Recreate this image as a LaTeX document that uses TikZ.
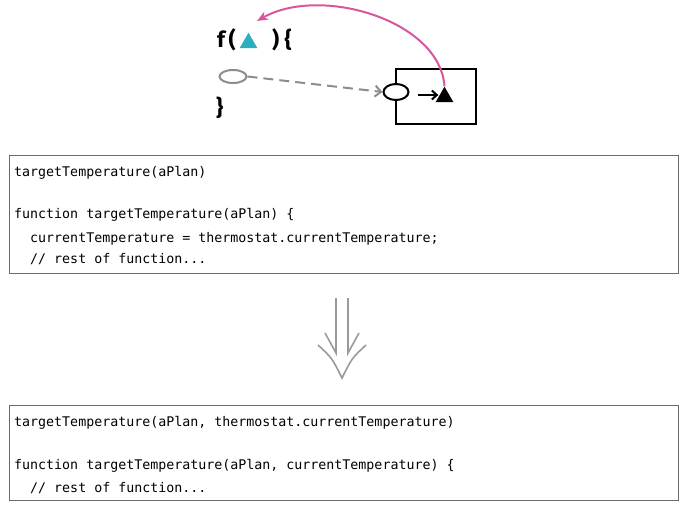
\documentclass[tikz,border=0pt]{standalone}
\usepackage{fontspec}
\setmonofont{DejaVu Sans Mono}
\newfontfamily\headfont{Fira Sans}
\usetikzlibrary{arrows.meta,shapes.geometric}
\definecolor{frame}{HTML}{6B6B6B}
\definecolor{flowgray}{HTML}{8C8C8C}
\definecolor{arrowgray}{HTML}{9A9A9A}
\definecolor{pinkline}{HTML}{D9569B}
\definecolor{teal}{HTML}{2AAEC0}

\begin{document}
\begin{tikzpicture}[x=1pt,y=-1pt,
    codeline/.style={anchor=base west,inner sep=0pt,font=\ttfamily\fontsize{13.3}{16}\selectfont},
    codebox/.style={draw=frame,line width=1pt,anchor=north west,inner sep=0pt},
    glyph/.style={anchor=base west,inner sep=0pt,font=\headfont\bfseries\fontsize{22}{26}\selectfont},
    tri/.style={regular polygon,regular polygon sides=3,minimum size=20.5pt,inner sep=0pt}]
    % page frame 688 x 511
    \useasboundingbox (0,0) rectangle (688,511);

    % function sketch
    \node[glyph] (fopen) at (217,48) {f\,(};
    \node[glyph] (fclose) at (272,48) {) \{};
    \node[glyph] (fend) at (216,115) {\}};
    \node[tri,fill=teal] (argtri) at (248.5,43) {};
    \node[ellipse,draw=flowgray,line width=2pt,minimum width=27pt,minimum height=13pt,inner sep=0pt] (localport) at (233,76.5) {};

    % the thermostat object
    \node[draw,line width=2pt,minimum width=80pt,minimum height=55pt,inner sep=0pt] (objbox) at (436,96.5) {};
    \node[ellipse,draw,fill=white,line width=2pt,minimum width=25pt,minimum height=16pt,inner sep=0pt] (objport) at (396,92) {};
    \node[tri,fill=black] (objtri) at (444.5,97) {};
    \draw[line width=2pt,-{Straight Barb[length=5pt,width=9pt]}] (objport.east) ++(8,3) coordinate (getstart) -- (objtri.west |- getstart);

    % connectors
    \draw[flowgray,line width=2pt,dash pattern=on 10pt off 6pt,-{Straight Barb[length=6pt,width=11pt]}] (localport.east) -- (objport.west);
    \coordinate (argtip) at (257,21);
    \draw[pinkline,line width=2pt,-{Stealth[length=11pt,width=9pt]}] (objtri.north) .. controls (440,20) and (320,-15) .. (argtip);

    % before
    \node[codebox,minimum width=669pt,minimum height=118pt] (before) at (9,155) {};
    \node[codeline] (b1) at (14,176) {targetTemperature(aPlan)};
    \node[codeline] (b2) at (14,218) {function targetTemperature(aPlan) \{};
    \node[codeline] (b3) at (14,242) {\ \ currentTemperature = thermostat.currentTemperature;};
    \node[codeline] (b4) at (14,263) {\ \ // rest of function...};

    % refactoring arrow
    \begin{scope}[arrowgray,line width=1.6pt]
      \draw (336,298) -- (336,353) -- (325,333);
      \draw (348,298) -- (348,353) -- (359,333);
      \draw (318,345) .. controls (332,358) .. (342,378) .. controls (352,358) .. (366,345);
    \end{scope}

    % after
    \node[codebox,minimum width=669pt,minimum height=95pt] (after) at (9,405) {};
    \node[codeline] (a1) at (14,426) {targetTemperature(aPlan, thermostat.currentTemperature)};
    \node[codeline] (a2) at (14,469) {function targetTemperature(aPlan, currentTemperature) \{};
    \node[codeline] (a3) at (14,492) {\ \ // rest of function...};
\end{tikzpicture}
\end{document}
